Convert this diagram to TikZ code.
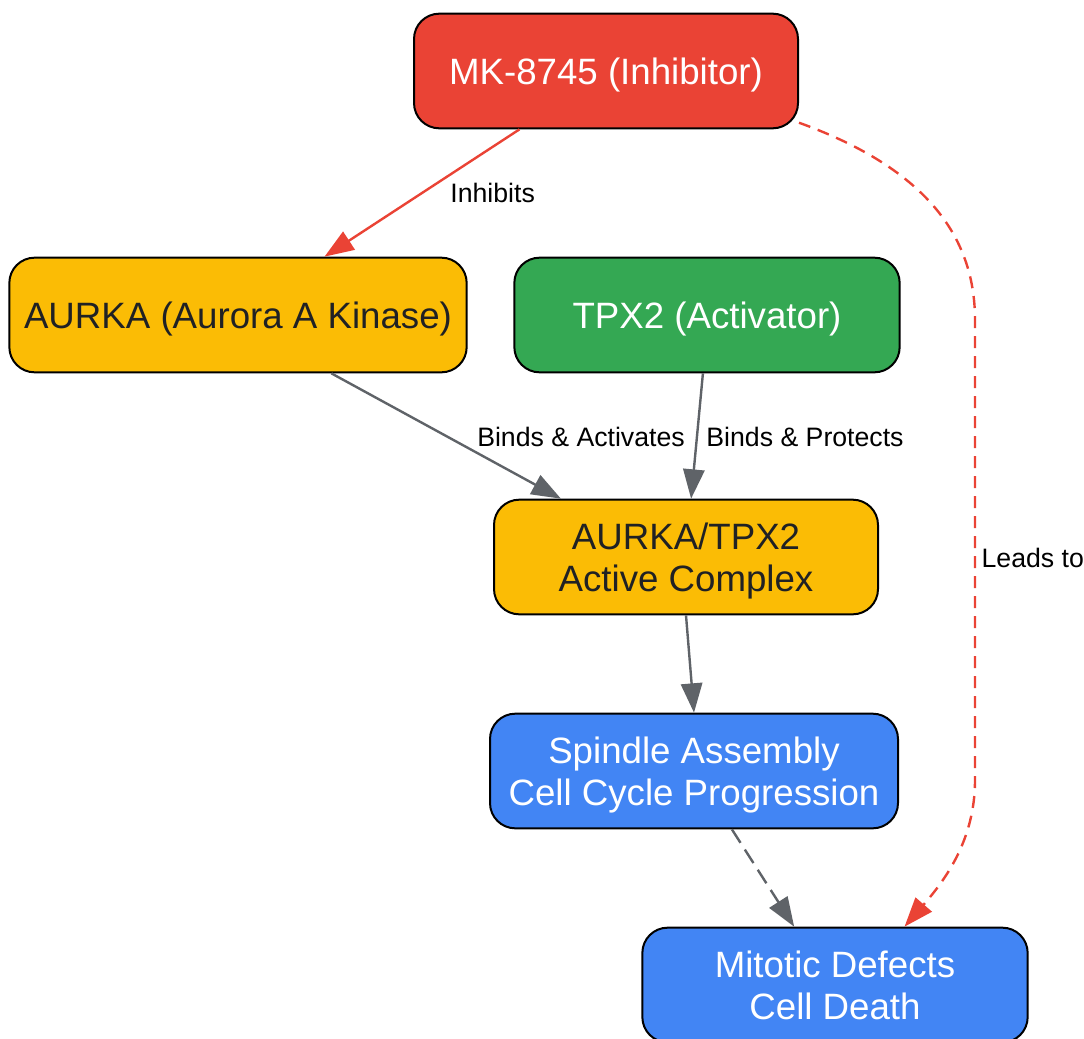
\documentclass[tikz,border=0pt]{standalone}
\usepackage{fontspec}
\setmainfont{Liberation Sans}
\usetikzlibrary{arrows.meta}
\definecolor{gred}{HTML}{EA4335}
\definecolor{gyellow}{HTML}{FBBC05}
\definecolor{ggreen}{HTML}{34A853}
\definecolor{gblue}{HTML}{4285F4}
\definecolor{ggrey}{HTML}{5F6368}
\definecolor{gdark}{HTML}{202124}
\begin{document}
\begin{tikzpicture}[x=0.75pt, y=-0.75pt,
    proc/.style={draw=black, line width=1.5pt, rounded corners=19pt, align=center,
                 minimum height=86pt, text depth=0pt, font=\fontsize{27.5}{31.5}\selectfont},
    lbl/.style={font=\fontsize{20}{24}\selectfont, text=black, inner sep=1pt},
    link/.style={ggrey, line width=1.8pt, -{Triangle[length=22pt, width=16pt]}}]
      \useasboundingbox (0, 0) rectangle (1084, 1038);
      \node (mk) [proc, fill=gred, text=white, minimum width=288pt] at (606, 71) {MK-8745 (Inhibitor)};
      \node (aurka) [proc, fill=gyellow, text=gdark, minimum width=343pt] at (238, 315) {AURKA (Aurora A Kinase)};
      \node (tpx) [proc, fill=ggreen, text=white, minimum width=289pt] at (707, 315) {TPX2 (Activator)};
      \node (cplx) [proc, fill=gyellow, text=gdark, minimum width=288pt] at (686, 557) {AURKA/TPX2\\Active Complex};
      \node (spin) [proc, fill=gblue, text=white, minimum width=306pt] at (694, 771) {Spindle Assembly\\Cell Cycle Progression};
      \node (mit) [proc, fill=gblue, text=white, minimum width=289pt] at (835, 985) {Mitotic Defects\\Cell Death};
      \draw [link, gred] (mk.-146) -- (aurka.34) node (inh) [lbl, pos=.5, xshift=53pt] {Inhibits};
      \draw [link] (aurka.-32) -- (cplx.155);
      \draw [link] (tpx.-94) -- (cplx.85);
      \draw [link] (cplx.south) -- (spin.north);
      \draw [link, dashed, dash pattern=on 12pt off 6pt] (spin.-57) -- (mit.125);
      \draw [link, gred, dashed, dash pattern=on 9pt off 6pt] (mk.-15)
            .. controls (930, 170) and (975, 240) .. (975, 320) -- (975, 780)
            .. controls (975, 840) and (945, 880) .. (mit.40);
      \node (act) [lbl] at (581, 437) {Binds \& Activates};
      \node (prot) [lbl] at (805, 437) {Binds \& Protects};
      \node (lead) [lbl, anchor=west] at (980, 558) {Leads to};
\end{tikzpicture}
\end{document}
